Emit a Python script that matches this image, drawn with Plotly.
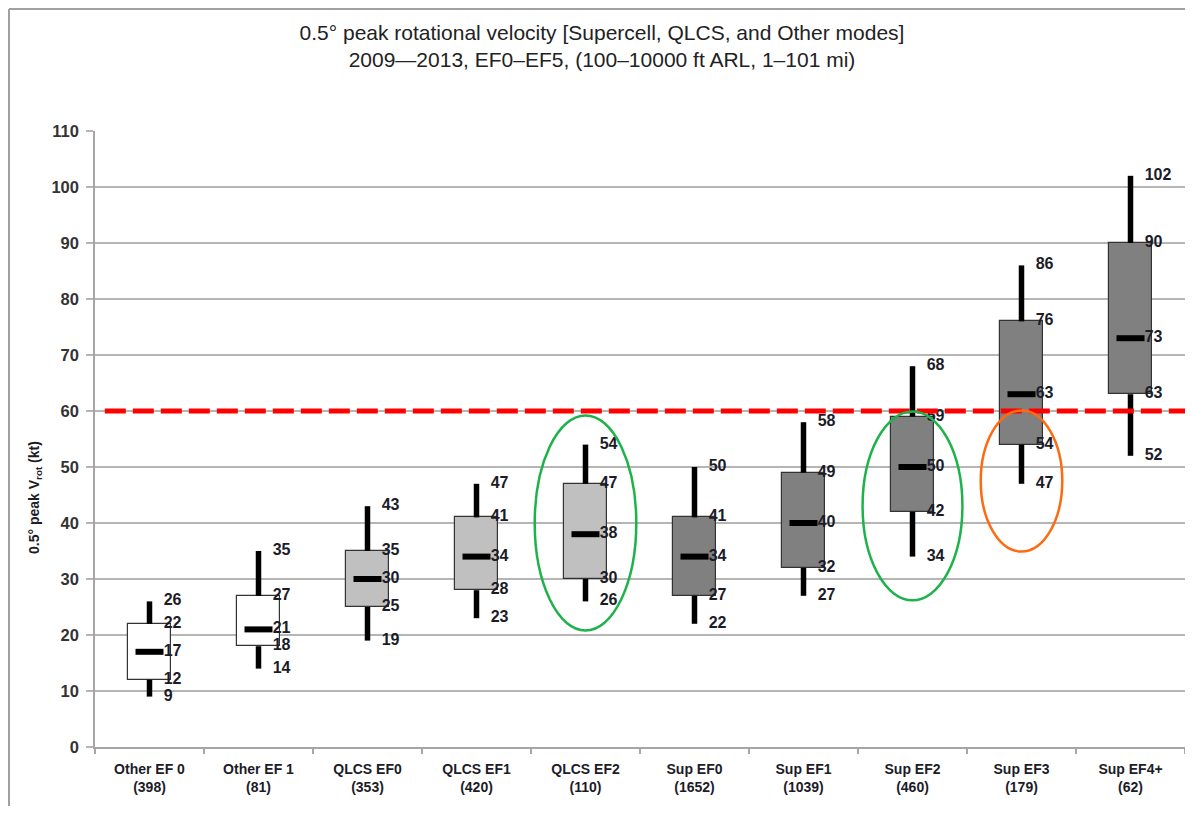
import plotly.graph_objects as go

# ---- data ----
categories = ["Other EF 0<br>(398)", "Other EF 1<br>(81)", "QLCS EF0<br>(353)",
              "QLCS EF1<br>(420)", "QLCS EF2<br>(110)", "Sup EF0<br>(1652)",
              "Sup EF1<br>(1039)", "Sup EF2<br>(460)", "Sup EF3<br>(179)",
              "Sup EF4+<br>(62)"]
low    = [9, 14, 19, 23, 26, 22, 27, 34, 47, 52]
q1     = [12, 18, 25, 28, 30, 27, 32, 42, 54, 63]
median = [17, 21, 30, 34, 38, 34, 40, 50, 63, 73]
q3     = [22, 27, 35, 41, 47, 41, 49, 59, 76, 90]
high   = [26, 35, 43, 47, 54, 50, 58, 68, 86, 102]
groups = ["Other", "Other", "QLCS", "QLCS", "QLCS", "Sup", "Sup", "Sup", "Sup", "Sup"]
threshold = 60
y_ticks = list(range(0, 111, 10))

# highlighted categories: (category index, half width, y bottom, y top, colour)
highlights = [(4, 0.466, 20.8, 59.2, "#1db34a"),
              (7, 0.458, 26.2, 59.9, "#1db34a"),
              (8, 0.374, 34.9, 60.1, "#ff6a10")]

# ---- styling ----
group_color = {"Other": "#ffffff", "QLCS": "#c0c0c0", "Sup": "#808080"}
FONT = "Liberation Sans, Arial, sans-serif"
TXT = "#1c1c28"

idx = list(range(len(categories)))
fig = go.Figure()

# boxes
fig.add_trace(go.Bar(
    x=idx, y=[b - a for a, b in zip(q1, q3)], base=q1, width=0.4,
    marker=dict(color=[group_color[g] for g in groups],
                line=dict(color="#333333", width=1.2)),
    hoverinfo="skip", showlegend=False))

# whiskers
wx, wy = [], []
for i in idx:
    wx += [i, i, None, i, i, None]
    wy += [low[i], q1[i], None, q3[i], high[i], None]
fig.add_trace(go.Scatter(x=wx, y=wy, mode="lines",
                         line=dict(color="black", width=5.5),
                         hoverinfo="skip", showlegend=False))

# medians
fig.add_trace(go.Scatter(x=idx, y=median, mode="markers",
                         marker=dict(symbol="line-ew", size=20,
                                     line=dict(color="black", width=6)),
                         hoverinfo="skip", showlegend=False))

# value labels
lx, ly, lt = [], [], []
for i in idx:
    for v in (low[i], q1[i], median[i], q3[i], high[i]):
        lx.append(i + 0.13)
        ly.append(v)
        lt.append(str(v))
fig.add_trace(go.Scatter(x=lx, y=ly, text=lt, mode="text",
                         textposition="middle right",
                         textfont=dict(family=FONT, size=16, color=TXT),
                         texttemplate="<b>%{text}</b>",
                         hoverinfo="skip", showlegend=False))

# threshold line
fig.add_trace(go.Scatter(x=[-0.41, 9.5], y=[threshold, threshold], mode="lines",
                         line=dict(color="#ff0000", width=5, dash="21px,7px"),
                         hoverinfo="skip", showlegend=False))

# highlight ellipses
for (ci, hw, yb, yt, col) in highlights:
    fig.add_shape(type="circle", xref="x", yref="y",
                  x0=ci - hw, x1=ci + hw, y0=yb, y1=yt,
                  line=dict(color=col, width=2.5))

W, H = 1177, 798
L, R, T, B = 87, 0, 123, 59
pw, ph = W - L - R, H - T - B
# outer border (left and top)
bx = (1 - L) / pw
by = 1 + (T - 1) / ph
fig.add_shape(type="line", xref="paper", yref="paper",
              x0=bx, x1=bx, y0=-0.2, y1=by,
              line=dict(color="#a0a0a0", width=2))
fig.add_shape(type="line", xref="paper", yref="paper",
              x0=bx, x1=1.1, y0=by, y1=by,
              line=dict(color="#a0a0a0", width=2))

fig.update_layout(
    width=W, height=H,
    margin=dict(l=L, r=R, t=T, b=B),
    paper_bgcolor="white", plot_bgcolor="white",
    font=dict(family=FONT, color=TXT),
    bargap=0,
    title=dict(text="0.5° peak rotational velocity [Supercell, QLCS, and Other modes]<br>"
                    "2009—2013, EF0–EF5, (100–10000 ft ARL, 1–101 mi)",
               x=(602 - 8) / W, xanchor="center", xref="container",
               y=1 - 32 / H, yanchor="middle", yref="container",
               font=dict(family=FONT, size=21, color="#222222")),
    xaxis=dict(range=[-0.5, 9.5], tickmode="array", tickvals=idx,
               ticktext=["<b>" + c + "</b>" for c in categories],
               tickfont=dict(family=FONT, size=14, color=TXT),
               showgrid=False, zeroline=False,
               showline=True, linecolor="#a6a6a6", linewidth=1.5,
               ticks="outside", ticklen=8, tickcolor="rgba(0,0,0,0)",
               minor=dict(tickmode="linear", tick0=-0.5, dtick=1,
                          ticks="outside", ticklen=5, tickcolor="#a6a6a6",
                          tickwidth=1.5, showgrid=False)),
    yaxis=dict(range=[0, 110], tickmode="array", tickvals=y_ticks,
               ticktext=["<b>%d</b>" % t for t in y_ticks],
               tickfont=dict(family=FONT, size=16.5, color="#333333"),
               showgrid=True, gridcolor="#b5b5b5", gridwidth=1.5,
               zeroline=False, showline=True, linecolor="#a6a6a6", linewidth=1.5,
               ticks="outside", ticklen=7, tickcolor="#b5b5b5", tickwidth=1.5,
               ticklabelstandoff=4),
)

fig.add_annotation(xref="paper", yref="paper", x=(27 - L) / pw, y=(ph - (490 - T)) / ph,
                   text="<b>0.5° peak V<sub>rot</sub> (kt)</b>", textangle=-90,
                   showarrow=False, xanchor="center", yanchor="middle",
                   font=dict(family=FONT, size=14, color=TXT))

fig.write_html("out.html")
